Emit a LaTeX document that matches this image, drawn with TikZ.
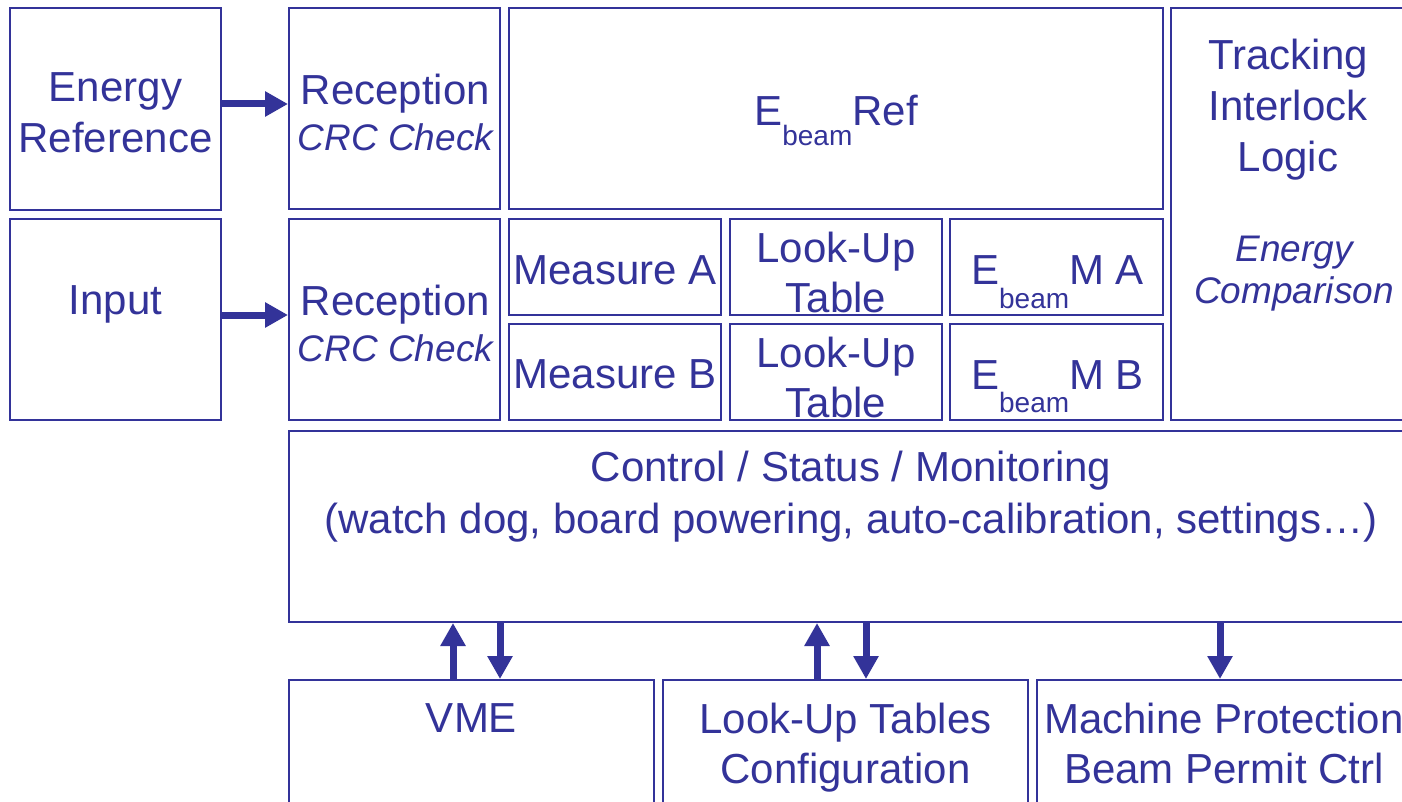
\documentclass[tikz,border=0pt]{standalone}
\usepackage{fontspec}
\setmainfont{Liberation Sans}
\usetikzlibrary{arrows.meta}
\definecolor{blu}{RGB}{51,51,153}
\newcommand{\beamsub}[1]{\raisebox{-#1}{\fontsize{28}{28}\selectfont beam}}
\begin{document}
\begin{tikzpicture}[x=1pt,y=-1pt,
  blk/.style={draw=blu, line width=2pt, inner sep=0pt},
  txt/.style={text=blu, font=\fontsize{42}{51}\selectfont, align=center, inner sep=0pt},
  itl/.style={text=blu, font=\fontsize{37}{42}\selectfont\itshape, align=center, inner sep=0pt},
  arr/.style={draw=blu, line width=7pt, -{Triangle[length=23pt,width=24pt]}}]
\useasboundingbox (0,0) rectangle (1402,802);
\fill[white] (0,0) rectangle (1402,802);
\clip (0,0) rectangle (1402,802);

% left column: sources
\node[blk, minimum width=211pt, minimum height=202pt] (eref) at (115.5,109) {};
\node[blk, minimum width=211pt, minimum height=201pt] (inp) at (115.5,319.5) {};
\node[txt] (eref-t) at (115.5,112.5) {Energy\\Reference};
\node[txt] (inp-t) at (115.5,304) {Input};

% reception blocks
\node[blk, minimum width=211pt, minimum height=201pt] (rec1) at (394.5,108.5) {};
\node[blk, minimum width=211pt, minimum height=201pt] (rec2) at (394.5,319.5) {};
\node[txt, font=\fontsize{42}{46}\selectfont] (rec1-t) at (395.5,112.5)
  {Reception\\{\fontsize{37}{46}\selectfont\itshape CRC Check}};
\node[txt, font=\fontsize{42}{46}\selectfont] (rec2-t) at (395.5,323.5)
  {Reception\\{\fontsize{37}{46}\selectfont\itshape CRC Check}};

% energy reference register
\node[blk, minimum width=654pt, minimum height=201pt] (ref) at (836,108.5) {};
\node[txt] (ref-t) at (836,120.5) {E\beamsub{20pt}Ref};

% measurement channels
\node[blk, minimum width=212pt, minimum height=96pt] (measA) at (615,267) {};
\node[blk, minimum width=212pt, minimum height=96pt] (measB) at (615,372) {};
\node[blk, minimum width=212pt, minimum height=96pt] (lutA) at (836,267) {};
\node[blk, minimum width=212pt, minimum height=96pt] (lutB) at (836,372) {};
\node[blk, minimum width=213pt, minimum height=96pt] (emA) at (1056.5,267) {};
\node[blk, minimum width=213pt, minimum height=96pt] (emB) at (1056.5,372) {};
\node[txt] (measA-t) at (615,270) {Measure A};
\node[txt] (measB-t) at (615,374) {Measure B};
\node[txt, font=\fontsize{42}{50}\selectfont] (lutA-t) at (836,272.5) {Look-Up\\Table};
\node[txt, font=\fontsize{42}{50}\selectfont] (lutB-t) at (836,377) {Look-Up\\Table};
\node[txt] (emA-t) at (1057.5,282.5) {E\beamsub{24pt}M A};
\node[txt] (emB-t) at (1057.5,386.5) {E\beamsub{23pt}M B};

% interlock logic
\node[blk, minimum width=240pt, minimum height=412pt] (trk) at (1291,214) {};
\node[txt] (trk-t) at (1288,110) {Tracking\\Interlock\\Logic};
\node[itl] (trk-i) at (1294,274) {Energy\\Comparison};

% control / status
\node[blk, minimum width=1122pt, minimum height=191pt] (ctrl) at (850,526.5) {};
\node[txt, font=\fontsize{42}{52}\selectfont] (ctrl-t) at (851,497)
  {Control / Status / Monitoring\\(watch dog, board powering, auto-calibration, settings\dots)};

% external interfaces
\node[blk, minimum width=365pt, minimum height=220pt] (vme) at (471.5,790) {};
\node[blk, minimum width=365pt, minimum height=220pt] (lcfg) at (845.5,790) {};
\node[blk, minimum width=374pt, minimum height=220pt] (mps) at (1224,790) {};
\node[txt] (vme-t) at (471.5,718) {VME};
\node[txt, font=\fontsize{42}{50}\selectfont] (lcfg-t) at (845.5,748) {Look-Up Tables\\Configuration};
\node[txt, font=\fontsize{42}{50}\selectfont] (mps-t) at (1224,743.5) {Machine Protection\\Beam Permit Ctrl};

% data flow into reception
\draw[arr] ([yshift=5pt]eref.east) -- ([yshift=5pt]eref.east -| rec1.west);
\draw[arr] ([yshift=4.5pt]inp.east) -- ([yshift=4.5pt]inp.east -| rec2.west);

% links between control block and interfaces
\draw[arr] ([xshift=-18.5pt]vme.north) -- ([xshift=-18.5pt]vme.north |- ctrl.south);
\draw[arr] ([xshift=28.5pt]vme.north |- ctrl.south) -- ([xshift=28.5pt]vme.north);
\draw[arr] ([xshift=-28.5pt]lcfg.north) -- ([xshift=-28.5pt]lcfg.north |- ctrl.south);
\draw[arr] ([xshift=20.5pt]lcfg.north |- ctrl.south) -- ([xshift=20.5pt]lcfg.north);
\draw[arr] ([xshift=-4pt]mps.north |- ctrl.south) -- ([xshift=-4pt]mps.north);
\end{tikzpicture}
\end{document}
